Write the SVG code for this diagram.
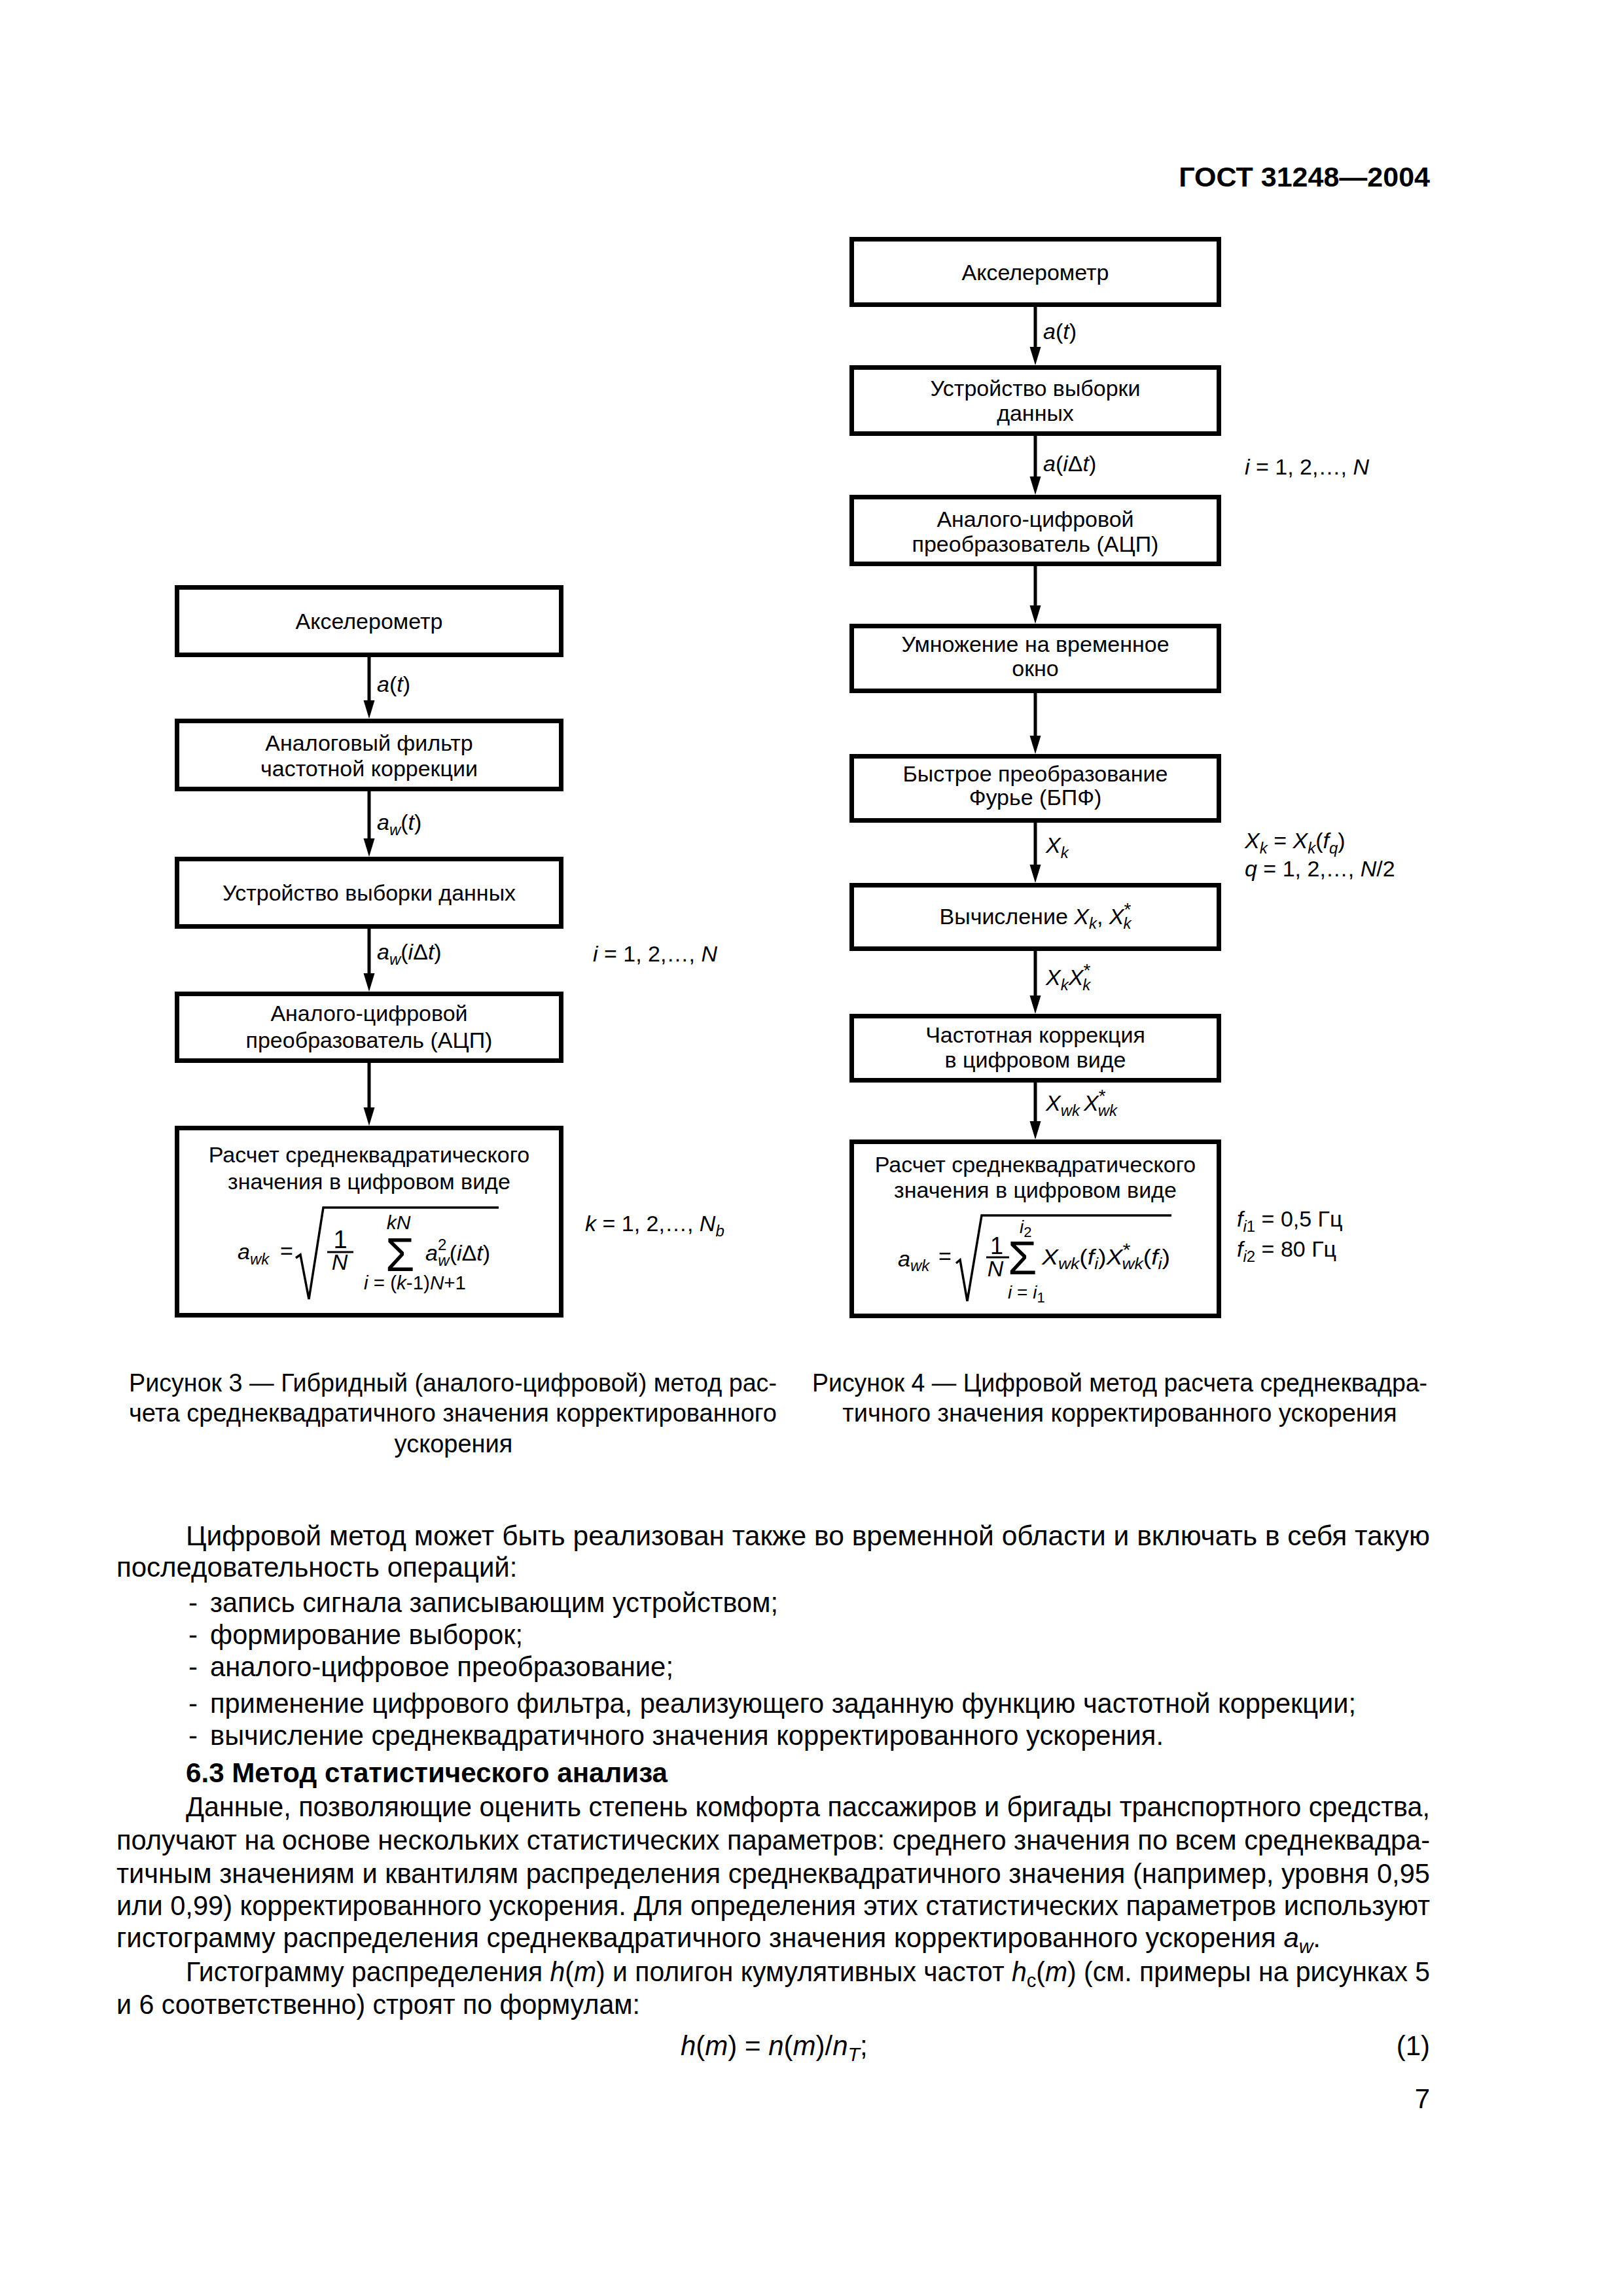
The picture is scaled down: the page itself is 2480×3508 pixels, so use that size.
<svg xmlns="http://www.w3.org/2000/svg" width="2480" height="3508" viewBox="0 0 2480 3508">
<style>
text{font-family:"Liberation Sans",Arial,sans-serif;fill:#000}
.t{font-size:34px}
.c{text-anchor:middle}
.e{text-anchor:end}
.i{font-style:italic}
.s{font-size:24px}
.b{font-size:42px}
.cap{font-size:38px}
.bold{font-weight:bold}
.box{fill:none;stroke:#000;stroke-width:7}
.arr{fill:none;stroke:#000;stroke-width:5;marker-end:url(#ah)}
.rad{fill:none;stroke:#000;stroke-width:3.5;stroke-linejoin:miter}
.bar{stroke:#000;stroke-width:3}
</style>
<defs>
<marker id="ah" viewBox="0 -9 28 18" refX="8" refY="0" markerWidth="28" markerHeight="18" markerUnits="userSpaceOnUse" orient="auto"><path d="M0,-8.5 L28,0 L0,8.5 z" fill="#000"/></marker>
</defs>
<rect width="2480" height="3508" fill="#fff"/>

<text class="bold e" x="2185" y="285" font-size="43">ГОСТ 31248—2004</text>

<!-- Figure 3 (left) -->
<g id="f3-n1"><rect class="box" x="270.5" y="897.5" width="587" height="103"/><text class="t c" x="564" y="961">Акселерометр</text></g>
<g id="f3-n2"><rect class="box" x="270.5" y="1101.5" width="587" height="104"/><text class="t c" x="564" y="1147">Аналоговый фильтр</text><text class="t c" x="564" y="1186">частотной коррекции</text></g>
<g id="f3-n3"><rect class="box" x="270.5" y="1312.5" width="587" height="103"/><text class="t c" x="564" y="1376">Устройство выборки данных</text></g>
<g id="f3-n4"><rect class="box" x="270.5" y="1518.5" width="587" height="102"/><text class="t c" x="564" y="1560">Аналого-цифровой</text><text class="t c" x="564" y="1601">преобразователь (АЦП)</text></g>
<g id="f3-n5"><rect class="box" x="270.5" y="1723.5" width="587" height="286"/>
<text class="t c" x="564" y="1776">Расчет среднеквадратического</text><text class="t c" x="564" y="1817">значения в цифровом виде</text>
<text class="t" x="363" y="1924"><tspan class="i">a</tspan><tspan class="s i" dy="8">wk</tspan></text>
<text class="t" x="428" y="1923">=</text>
<path class="rad" d="M452,1922 L459,1917 L472,1985 L494,1845 L762,1845"/>
<text class="c" x="520" y="1907" font-size="38">1</text>
<line class="bar" x1="500" y1="1913" x2="540" y2="1913"/>
<text class="t c i" x="519" y="1940">N</text>
<text x="589" y="1942" font-size="72">Σ</text>
<text class="c i" x="609" y="1878" font-size="30">kN</text>
<text x="556" y="1970" font-size="30" textLength="156" lengthAdjust="spacingAndGlyphs"><tspan class="i">i</tspan> = (<tspan class="i">k</tspan>-1)<tspan class="i">N</tspan>+1</text>
<text class="t" x="650" y="1926"><tspan class="i">a</tspan><tspan class="s" dy="-16">2</tspan><tspan class="s i" dx="-13" dy="24">w</tspan><tspan dy="-8">(</tspan><tspan class="i">i</tspan>Δ<tspan class="i">t</tspan>)</text>
</g>

<!-- Figure 4 (right) -->
<g id="f4-n1"><rect class="box" x="1301.5" y="365.5" width="561" height="100"/><text class="t c" x="1582" y="428">Акселерометр</text></g>
<g id="f4-n2"><rect class="box" x="1301.5" y="561.5" width="561" height="101"/><text class="t c" x="1582" y="605">Устройство выборки</text><text class="t c" x="1582" y="643">данных</text></g>
<g id="f4-n3"><rect class="box" x="1301.5" y="759.5" width="561" height="102"/><text class="t c" x="1582" y="805">Аналого-цифровой</text><text class="t c" x="1582" y="843">преобразователь (АЦП)</text></g>
<g id="f4-n4"><rect class="box" x="1301.5" y="956.5" width="561" height="99"/><text class="t c" x="1582" y="996">Умножение на временное</text><text class="t c" x="1582" y="1033">окно</text></g>
<g id="f4-n5"><rect class="box" x="1301.5" y="1155.5" width="561" height="98"/><text class="t c" x="1582" y="1194">Быстрое преобразование</text><text class="t c" x="1582" y="1230">Фурье (БПФ)</text></g>
<g id="f4-n6"><rect class="box" x="1301.5" y="1352.5" width="561" height="97"/><text class="t c" x="1582" y="1412">Вычисление <tspan class="i">X</tspan><tspan class="s i" dy="7">k</tspan><tspan dy="-7">, </tspan><tspan class="i">X</tspan><tspan font-size="28" dy="-13">*</tspan><tspan class="s i" dx="-12" dy="20">k</tspan></text></g>
<g id="f4-n7"><rect class="box" x="1301.5" y="1552.5" width="561" height="98"/><text class="t c" x="1582" y="1593">Частотная коррекция</text><text class="t c" x="1582" y="1631">в цифровом виде</text></g>
<g id="f4-n8"><rect class="box" x="1301.5" y="1744.5" width="561" height="266"/>
<text class="t c" x="1582" y="1791">Расчет среднеквадратического</text><text class="t c" x="1582" y="1830">значения в цифровом виде</text>
<text class="t" x="1372" y="1935"><tspan class="i">a</tspan><tspan class="s i" dy="7">wk</tspan></text>
<text class="t" x="1434" y="1931">=</text>
<path class="rad" d="M1461,1930 L1467,1925 L1478,1988 L1500,1857 L1790,1857"/>
<text class="c" x="1523" y="1916" font-size="36">1</text>
<line class="bar" x1="1507" y1="1921" x2="1542" y2="1921"/>
<text class="t c i" x="1521" y="1950">N</text>
<text x="1540" y="1947" font-size="72">Σ</text>
<text x="1558" y="1884" font-size="28"><tspan class="i">i</tspan><tspan font-size="22" dy="6">2</tspan></text>
<text x="1540" y="1984" font-size="28"><tspan class="i">i</tspan> = <tspan class="i">i</tspan><tspan font-size="22" dy="6">1</tspan></text>
<text class="t" x="1592" y="1932" textLength="196" lengthAdjust="spacingAndGlyphs"><tspan class="i">X</tspan><tspan class="s i" dy="7">wk</tspan><tspan dy="-7">(</tspan><tspan class="i">f</tspan><tspan class="s i" dy="7">i</tspan><tspan dy="-7">)</tspan><tspan class="i">X</tspan><tspan font-size="28" dy="-13">*</tspan><tspan class="s i" dx="-12" dy="20">wk</tspan><tspan dy="-7">(</tspan><tspan class="i">f</tspan><tspan class="s i" dy="7">i</tspan><tspan dy="-7">)</tspan></text>
</g>

<!-- connectors -->
<g id="connectors">
<path class="arr" d="M564,1004 V1078"/>
<path class="arr" d="M564,1209 V1289"/>
<path class="arr" d="M564,1419 V1495"/>
<path class="arr" d="M564,1624 V1700"/>
<path class="arr" d="M1582,469 V538"/>
<path class="arr" d="M1582,666 V736"/>
<path class="arr" d="M1582,865 V933"/>
<path class="arr" d="M1582,1059 V1132"/>
<path class="arr" d="M1582,1257 V1329"/>
<path class="arr" d="M1582,1453 V1529"/>
<path class="arr" d="M1582,1654 V1721"/>
</g>

<!-- connector labels, figure 3 -->
<text class="t" x="576" y="1057"><tspan class="i">a</tspan>(<tspan class="i">t</tspan>)</text>
<text class="t" x="576" y="1268"><tspan class="i">a</tspan><tspan class="s i" dy="8">w</tspan><tspan dy="-8">(</tspan><tspan class="i">t</tspan>)</text>
<text class="t" x="576" y="1466"><tspan class="i">a</tspan><tspan class="s i" dy="8">w</tspan><tspan dy="-8">(</tspan><tspan class="i">i</tspan>Δ<tspan class="i">t</tspan>)</text>
<text class="t" x="906" y="1469"><tspan class="i">i</tspan> = 1, 2,…, <tspan class="i">N</tspan></text>
<text class="t" x="894" y="1881"><tspan class="i">k</tspan> = 1, 2,…, <tspan class="i">N</tspan><tspan class="s i" dy="8">b</tspan></text>

<!-- connector labels, figure 4 -->
<text class="t" x="1594" y="518"><tspan class="i">a</tspan>(<tspan class="i">t</tspan>)</text>
<text class="t" x="1594" y="720"><tspan class="i">a</tspan>(<tspan class="i">i</tspan>Δ<tspan class="i">t</tspan>)</text>
<text class="t" x="1902" y="725"><tspan class="i">i</tspan> = 1, 2,…, <tspan class="i">N</tspan></text>
<text class="t" x="1598" y="1303"><tspan class="i">X</tspan><tspan class="s i" dy="8">k</tspan></text>
<text class="t" x="1902" y="1296"><tspan class="i">X</tspan><tspan class="s i" dy="8">k</tspan><tspan dy="-8"> = </tspan><tspan class="i">X</tspan><tspan class="s i" dy="8">k</tspan><tspan dy="-8">(</tspan><tspan class="i">f</tspan><tspan class="s i" dy="8">q</tspan><tspan dy="-8">)</tspan></text>
<text class="t" x="1902" y="1339"><tspan class="i">q</tspan> = 1, 2,…, <tspan class="i">N</tspan>/2</text>
<text class="t" x="1598" y="1505"><tspan class="i">X</tspan><tspan class="s i" dy="8">k</tspan><tspan class="i" dy="-8">X</tspan><tspan font-size="28" dy="-13">*</tspan><tspan class="s i" dx="-12" dy="21">k</tspan></text>
<text class="t" x="1598" y="1697"><tspan class="i">X</tspan><tspan class="s i" dy="8">wk</tspan><tspan class="i" dx="6" dy="-8">X</tspan><tspan font-size="28" dy="-13">*</tspan><tspan class="s i" dx="-12" dy="21">wk</tspan></text>
<text class="t" x="1890" y="1874"><tspan class="i">f</tspan><tspan class="s i" dy="8">i</tspan><tspan class="s" dy="0">1</tspan><tspan dy="-8"> = 0,5 Гц</tspan></text>
<text class="t" x="1890" y="1920"><tspan class="i">f</tspan><tspan class="s i" dy="8">i</tspan><tspan class="s" dy="0">2</tspan><tspan dy="-8"> = 80 Гц</tspan></text>

<!-- captions -->
<text class="cap" x="197" y="2126" textLength="990" lengthAdjust="spacingAndGlyphs">Рисунок 3 — Гибридный (аналого-цифровой) метод рас-</text>
<text class="cap" x="197" y="2172" textLength="990" lengthAdjust="spacingAndGlyphs">чета среднеквадратичного значения корректированного</text>
<text class="cap c" x="693" y="2219">ускорения</text>
<text class="cap" x="1241" y="2126" textLength="940" lengthAdjust="spacingAndGlyphs">Рисунок 4 — Цифровой метод расчета среднеквадра-</text>
<text class="cap c" x="1711" y="2172">тичного значения корректированного ускорения</text>

<!-- body text -->
<text class="b" x="284" y="2361" textLength="1901" lengthAdjust="spacingAndGlyphs">Цифровой метод может быть реализован также во временной области и включать в себя такую</text>
<text class="b" x="178" y="2409">последовательность операций:</text>
<text class="b" x="288" y="2463">-</text><text class="b" x="321" y="2463" textLength="868" lengthAdjust="spacingAndGlyphs">запись сигнала записывающим устройством;</text>
<text class="b" x="288" y="2512">-</text><text class="b" x="321" y="2512" textLength="478" lengthAdjust="spacingAndGlyphs">формирование выборок;</text>
<text class="b" x="288" y="2561">-</text><text class="b" x="321" y="2561" textLength="708" lengthAdjust="spacingAndGlyphs">аналого-цифровое преобразование;</text>
<text class="b" x="288" y="2617">-</text><text class="b" x="321" y="2617" textLength="1751" lengthAdjust="spacingAndGlyphs">применение цифрового фильтра, реализующего заданную функцию частотной коррекции;</text>
<text class="b" x="288" y="2666">-</text><text class="b" x="321" y="2666" textLength="1457" lengthAdjust="spacingAndGlyphs">вычисление среднеквадратичного значения корректированного ускорения.</text>
<text class="b bold" x="284" y="2723" textLength="736" lengthAdjust="spacingAndGlyphs">6.3  Метод статистического анализа</text>
<text class="b" x="284" y="2775" textLength="1901" lengthAdjust="spacingAndGlyphs">Данные, позволяющие оценить степень комфорта пассажиров и бригады транспортного средства,</text>
<text class="b" x="178" y="2826" textLength="2007" lengthAdjust="spacingAndGlyphs">получают на основе нескольких статистических параметров: среднего значения по всем среднеквадра-</text>
<text class="b" x="178" y="2877" textLength="2007" lengthAdjust="spacingAndGlyphs">тичным значениям и квантилям распределения среднеквадратичного значения (например, уровня 0,95</text>
<text class="b" x="178" y="2926" textLength="2007" lengthAdjust="spacingAndGlyphs">или 0,99) корректированного ускорения. Для определения этих статистических параметров используют</text>
<text class="b" x="178" y="2975" textLength="1840" lengthAdjust="spacingAndGlyphs">гистограмму распределения среднеквадратичного значения корректированного ускорения <tspan class="i">a</tspan><tspan class="i" font-size="30" dy="9">w</tspan><tspan dy="-9">.</tspan></text>
<text class="b" x="284" y="3027" textLength="1901" lengthAdjust="spacingAndGlyphs">Гистограмму распределения <tspan class="i">h</tspan>(<tspan class="i">m</tspan>) и полигон кумулятивных частот <tspan class="i">h</tspan><tspan font-size="30" dy="9">c</tspan><tspan dy="-9">(</tspan><tspan class="i">m</tspan>) (см. примеры на рисунках 5</text>
<text class="b" x="178" y="3077" textLength="800" lengthAdjust="spacingAndGlyphs">и 6 соответственно) строят по формулам:</text>
<text class="b" x="1040" y="3140"><tspan class="i">h</tspan>(<tspan class="i">m</tspan>) = <tspan class="i">n</tspan>(<tspan class="i">m</tspan>)/<tspan class="i">n</tspan><tspan class="i" font-size="30" dy="9">T</tspan><tspan dy="-9">;</tspan></text>
<text class="b e" x="2185" y="3140">(1)</text>
<text class="b e" x="2185" y="3221">7</text>
</svg>
